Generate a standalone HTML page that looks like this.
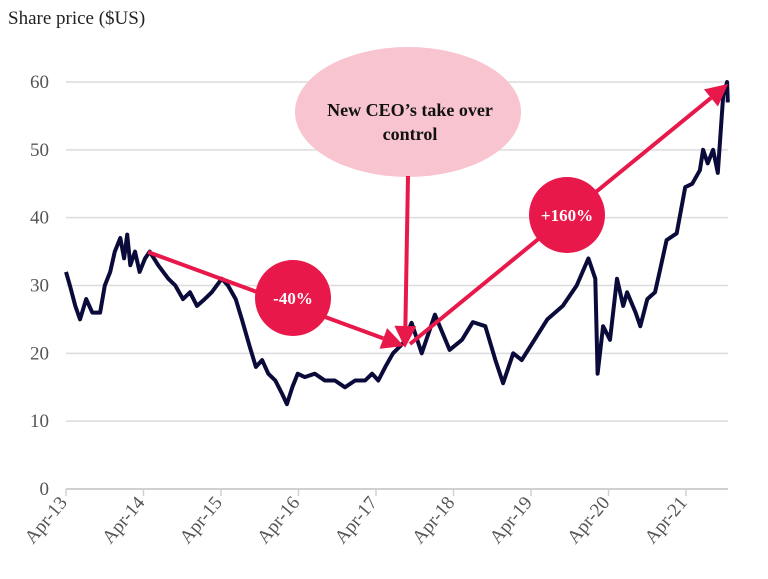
<!DOCTYPE html>
<html><head><meta charset="utf-8"><style>
body{margin:0;background:#fff}
svg{display:block;font-family:"Liberation Serif",serif}
</style></head><body>
<svg id="chart" width="768" height="579" viewBox="0 0 768 579">
<text x="8" y="24" font-size="19" fill="#222">Share price ($US)</text>
<g id="grid"></g><g id="yticks"></g><g id="xticks"></g>
<path id="line" fill="none" stroke="#0b0b3b" stroke-width="4" stroke-linejoin="round"/>
<g id="ann"></g>
</svg>
<script>
const yTicks=[0,10,20,30,40,50,60];
const xLabels=["Apr-13","Apr-14","Apr-15","Apr-16","Apr-17","Apr-18","Apr-19","Apr-20","Apr-21"];
const dates=[0,0.05,0.12,0.18,0.26,0.34,0.44,0.50,0.57,0.63,
0.70,0.75,0.79,0.83,0.89,0.95,1.02,1.08,1.19,1.32,
1.41,1.51,1.60,1.69,1.79,1.88,2.01,2.09,2.19,2.27,
2.37,2.45,2.53,2.61,2.70,2.79,2.85,2.92,2.99,3.08,
3.21,3.34,3.47,3.60,3.73,3.86,3.95,4.03,4.12,4.22,
4.35,4.46,4.59,4.76,4.95,5.11,5.25,5.41,5.54,5.64,
5.77,5.88,5.99,6.21,6.41,6.59,6.74,6.83,6.86,6.93,
7.02,7.11,7.19,7.24,7.35,7.41,7.50,7.60,7.66,7.75,
7.88,7.99,8.08,8.18,8.22,8.28,8.35,8.41,8.48,8.53,
8.54];
const prices=[32,30,27,25,28,26,26,30,32,35,
37,34,37.5,33,35,32,34,35,33,31,
30,28,29,27,28,29,31,30,28,25,
21,18,19,17,16,14,12.5,15,17,16.5,
17,16,16,15,16,16,17,16,18,20,
21.5,24.5,20,25.7,20.5,22,24.6,24,19,15.6,
20,19,21,25,27,30,34,31,17,24,
22,31,27,29,26,24,28,29,32,36.7,
37.7,44.5,45,47,50,48,50,46.6,58,60,
57];
const X0=66,XS=77.5,Y0=489,YS=6.783,XEND=728;
const sx=t=>X0+t*XS, sy=v=>Y0-v*YS;
const NS="http://www.w3.org/2000/svg";
function mk(tag,attrs,parent,text){const e=document.createElementNS(NS,tag);for(const k in attrs)e.setAttribute(k,attrs[k]);if(text!=null)e.textContent=text;parent.appendChild(e);return e;}
const grid=document.getElementById('grid'),yt=document.getElementById('yticks'),xt=document.getElementById('xticks');
yTicks.forEach(v=>{
  const l=mk('line',{x1:X0,x2:XEND,y1:sy(v),y2:sy(v),stroke:v===0?'#d0d0d0':'#dcdcdc','stroke-width':v===0?2:1.5},grid);
  
  
  const t=mk('text',{x:49,y:sy(v)+6,'text-anchor':'end','font-size':19,fill:'#555'},yt,String(v));
  
  
});
xLabels.forEach((s,i)=>{
  const x=sx(i);
  const tk=mk('line',{x1:x,x2:x,y1:Y0,y2:Y0+7,stroke:'#d0d0d0','stroke-width':1.5},xt);
  
  
  const t=mk('text',{x:x+2,y:Y0+14,'text-anchor':'end','font-size':19,fill:'#555',transform:`rotate(-50 ${x+2} ${Y0+14})`},xt,s);
  
  
});
document.getElementById('line').setAttribute('d',dates.map((t,i)=>(i?'L':'M')+sx(t).toFixed(1)+','+sy(prices[i]).toFixed(1)).join(''));
const ann=document.getElementById('ann');const R='#e8194a';
function arrow(x1,y1,x2,y2,name){
  const g=mk('g',{},ann);
  
  
  const a=Math.atan2(y2-y1,x2-x1),L=22,W=11;
  const bx=x2-L*Math.cos(a),by=y2-L*Math.sin(a);
  mk('line',{x1,y1,x2:bx,y2:by,stroke:R,'stroke-width':4},g);
  mk('polygon',{points:`${x2},${y2} ${bx+W*Math.sin(a)},${by-W*Math.cos(a)} ${bx-W*Math.sin(a)},${by+W*Math.cos(a)}`,fill:R},g);
}
const e=mk('ellipse',{cx:408,cy:112,rx:113,ry:65,fill:'#f8c4cf'},ann);


const t1=mk('text',{x:410,y:116,'text-anchor':'middle','font-size':18,'font-weight':'bold',fill:'#111'},ann,'New CEO’s take over');


const t2=mk('text',{x:410,y:140,'text-anchor':'middle','font-size':18,'font-weight':'bold',fill:'#111'},ann,'control');


arrow(408,176,405,348,'ceo-arrow');
arrow(148,252,404,346,'decline-arrow');
arrow(410,344,728,84,'rise-arrow');
[[293,298,'-40%','decline-badge'],[567,215,'+160%','rise-badge']].forEach(([cx,cy,s,n])=>{
  const c=mk('circle',{cx,cy,r:38,fill:R},ann);
  
  
  const t=mk('text',{x:cx,y:cy+6,'text-anchor':'middle','font-size':17,'font-weight':'bold',fill:'#fff'},ann,s);
  
  
});
</script>
</body></html>
